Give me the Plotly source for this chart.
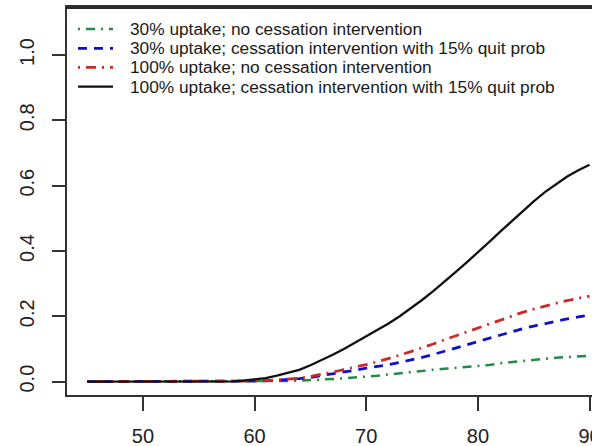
import plotly.graph_objects as go

age = list(range(45, 91))

names = [
    "30% uptake; no cessation intervention",
    "30% uptake; cessation intervention with 15% quit prob",
    "100% uptake; no cessation intervention",
    "100% uptake; cessation intervention with 15% quit prob",
]

zeros13 = [0.0] * 13  # ages 45..57

green = zeros13 + [0.0, 0.0, 0.0, 0.001, 0.001, 0.002, 0.003, 0.004, 0.006, 0.008,
                   0.010, 0.012, 0.015, 0.018, 0.022, 0.026, 0.030, 0.033, 0.036, 0.039,
                   0.042, 0.044, 0.047, 0.051, 0.056, 0.060, 0.064, 0.067, 0.070, 0.073,
                   0.075, 0.077, 0.079]
blue = zeros13 + [0.0, 0.0, 0.001, 0.002, 0.004, 0.006, 0.009, 0.013, 0.018, 0.024,
                  0.030, 0.035, 0.041, 0.046, 0.052, 0.059, 0.066, 0.074, 0.083, 0.093,
                  0.103, 0.113, 0.123, 0.133, 0.143, 0.153, 0.162, 0.170, 0.178, 0.185,
                  0.192, 0.198, 0.204]
red = zeros13 + [0.0, 0.0, 0.002, 0.003, 0.005, 0.007, 0.010, 0.016, 0.022, 0.029,
                 0.037, 0.044, 0.052, 0.061, 0.070, 0.081, 0.092, 0.103, 0.115, 0.128,
                 0.140, 0.152, 0.164, 0.177, 0.190, 0.201, 0.212, 0.222, 0.232, 0.240,
                 0.248, 0.255, 0.262]
black = zeros13 + [0.001, 0.003, 0.006, 0.011, 0.018, 0.026, 0.036, 0.050, 0.065, 0.082,
                   0.100, 0.119, 0.138, 0.158, 0.178, 0.200, 0.224, 0.250, 0.277, 0.305,
                   0.335, 0.365, 0.395, 0.427, 0.459, 0.491, 0.522, 0.552, 0.580, 0.605,
                   0.628, 0.647, 0.664]

series = [green, blue, red, black]
colors = ["#228B45", "#1010CC", "#CD2A2A", "#111111"]
dashes = ["2px,6px,9px,6px", "9px,7px", "2px,6px,10px,6px", "solid"]
widths = [2.5, 2.8, 2.8, 2.3]

x_ticks = [50, 60, 70, 80, 90]
y_ticks = [0.0, 0.2, 0.4, 0.6, 0.8, 1.0]
y_ticklabels = ["0.0", "0.2", "0.4", "0.6", "0.8", "1.0"]

W, H = 592, 446
ML, MR, MT, MB = 67, 0, 7, 51
PW, PH = W - ML - MR, H - MT - MB

fig = go.Figure()
for name, ys, c, d, w in zip(names, series, colors, dashes, widths):
    fig.add_trace(go.Scatter(x=age, y=ys, mode="lines", name=name,
                             line=dict(color=c, dash=d, width=w),
                             showlegend=False, cliponaxis=False))

# manual legend (R-style, no box)
def px2paper_x(px):
    return (px - ML) / PW

def px2paper_y(py):
    return (H - MB - py) / PH

row_y = [29, 48.3, 67.3, 86.7]
for name, c, d, w, ry in zip(names, colors, dashes, widths, row_y):
    fig.add_shape(type="line", xref="paper", yref="paper",
                  x0=px2paper_x(78), x1=px2paper_x(113),
                  y0=px2paper_y(ry), y1=px2paper_y(ry),
                  line=dict(color=c, dash=d, width=w))
    fig.add_annotation(xref="paper", yref="paper", x=px2paper_x(128), y=px2paper_y(ry),
                       text=name, showarrow=False, xanchor="left", yanchor="middle",
                       font=dict(family="Liberation Sans, Arial", size=17.3, color="#1a1a1a"))

# top frame line of the R box (its right side falls outside the picture)
fig.add_shape(type="rect", xref="paper", yref="paper", x0=-0.002, x1=1.0,
              y0=px2paper_y(9), y1=px2paper_y(6.5), layer="above",
              fillcolor="#2a2a2a", line=dict(width=0))

fig.update_layout(
    width=W, height=H,
    margin=dict(l=ML, r=MR, t=MT, b=MB, pad=0, autoexpand=False),
    paper_bgcolor="white", plot_bgcolor="white",
    font=dict(family="Liberation Sans, Arial", color="#222222"),
    showlegend=False,
)
fig.update_xaxes(range=[43.2, 90.22], tickvals=x_ticks, ticks="outside", ticklen=14,
                 tickwidth=1.5, tickcolor="#333333", showgrid=False, zeroline=False,
                 showline=True, linecolor="#333333", linewidth=1.5, mirror=True,
                 tickfont=dict(size=20, color="#222222"), ticklabelstandoff=8,
                 ticklabeloverflow="allow", automargin=False)
fig.update_yaxes(range=[-0.041, 1.147], tickvals=y_ticks, ticktext=y_ticklabels,
                 ticks="outside", ticklen=13, tickwidth=1.5, tickcolor="#333333",
                 showgrid=False, zeroline=False, showline=True, linecolor="#333333",
                 linewidth=1.5, mirror=False, tickangle=-90,
                 tickfont=dict(size=20, color="#222222"), ticklabelstandoff=10,
                 automargin=False)

fig.write_html(
    "out.html",
    config={"displayModeBar": False},
    post_script="document.body.style.margin='0px';document.body.style.overflow='hidden';",
)
